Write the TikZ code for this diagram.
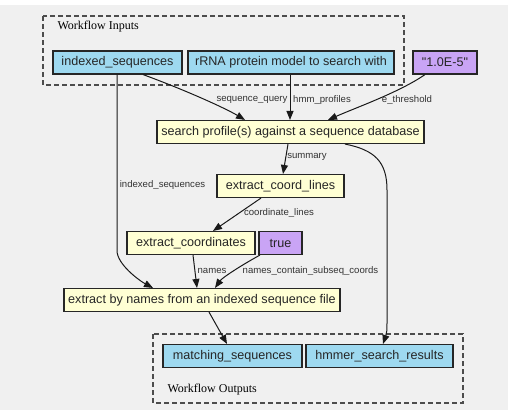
\documentclass[tikz,border=0pt]{standalone}
\usepackage{fontspec}
\setmainfont{Liberation Serif}
\newfontfamily\boxfont{Liberation Sans}
\usetikzlibrary{arrows.meta}
\definecolor{bgray}{HTML}{F0F0F0}
\definecolor{inblue}{HTML}{9ED9F0}
\definecolor{stepyellow}{HTML}{FFFFD4}
\definecolor{parampurple}{HTML}{C9A4F5}
\begin{document}
\begin{tikzpicture}[x=1pt, y=-1pt,
  box/.style={draw=black!85, line width=1.1pt, minimum height=23pt, inner sep=0pt,
    font=\boxfont\fontsize{12.6}{14}\selectfont, text=black!85},
  iobox/.style={box, fill=inblue},
  toolbox/.style={box, fill=stepyellow},
  parambox/.style={box, fill=parampurple},
  frame/.style={draw=black!70, line width=1.1pt, dash pattern=on 5pt off 3pt},
  flow/.style={line width=1pt, draw=black!90, -{Triangle[length=9pt, width=7pt]}},
  lbl/.style={font=\boxfont\fontsize{9.6}{11}\selectfont, text=black!80, inner sep=1pt}]
\useasboundingbox (0,0) rectangle (508,410);
\fill[bgray] (0,5) rectangle (508,410);

% groups
\draw[frame] (43,16) rectangle (404,85);
\node[anchor=west, font=\fontsize{12}{14}\selectfont] (intitle) at (54,27) {Workflow Inputs};
\draw[frame] (153,334) rectangle (463,403);
\node[anchor=west, font=\fontsize{12}{14}\selectfont] (outtitle) at (164,390) {Workflow Outputs};

% inputs
\node[iobox, minimum width=129pt] (idx) at (117.5,62.5) {indexed\_sequences};
\node[iobox, minimum width=206pt] (rrna) at (291,62.5) {rRNA protein model to search with};
\node[parambox, minimum width=64pt] (thr) at (445,62.5) {"1.0E-5"};

% steps
\node[toolbox, minimum width=267pt] (search) at (290.5,132) {search profile(s) against a sequence database};
\node[toolbox, minimum width=127pt] (ecl) at (280.5,186) {extract\_coord\_lines};
\node[toolbox, minimum width=128pt] (ec) at (191,243) {extract\_coordinates};
\node[parambox, minimum width=43pt] (istrue) at (280.5,243) {true};
\node[toolbox, minimum width=276pt] (ebn) at (202,300) {extract by names from an indexed sequence file};

% outputs
\node[iobox, minimum width=139pt] (ms) at (232.5,356) {matching\_sequences};
\node[iobox, minimum width=147pt] (hsr) at (379.5,356) {hmmer\_search\_results};

% connectors
\draw[flow] ([xshift=-0.5pt]idx.south) -- ++(0,176) .. controls ++(0,14) and (140,281) .. ([xshift=-49pt]ebn.north);
\draw[flow] ([xshift=25.5pt]idx.south) .. controls (185,90) and (225,108) .. ([xshift=-45.5pt]search.north);
\draw[flow] ([xshift=-1pt]rrna.south) -- ([xshift=-0.5pt]search.north);
\draw[flow] ([xshift=-20pt]thr.south) .. controls (400,92) and (355,108) .. ([xshift=37.5pt]search.north);
\draw[flow] ([xshift=-2.5pt]search.south) -- ([xshift=2.5pt]ecl.north);
\draw[flow] ([xshift=54.5pt]search.south) .. controls (375,150) and (387,162) .. (387,190) -- (387,318) .. controls (387,332) .. ([xshift=3.5pt]hsr.north);
\draw[flow] ([xshift=-19.5pt]ecl.south) -- ([xshift=22pt]ec.north);
\draw[flow] ([xshift=2pt]ec.south) -- ([xshift=-5pt]ebn.north);
\draw[flow] ([xshift=-20.5pt]istrue.south) .. controls (240,266) and (222,278) .. ([xshift=13pt]ebn.north);
\draw[flow] ([xshift=7pt]ebn.south) -- ([xshift=-5.5pt]ms.north);

% labels
\node[lbl] (lseq) at (252,100) {sequence\_query};
\node[lbl] (lhmm) at (322,100) {hmm\_profiles};
\node[lbl] (lthr) at (407,100) {e\_threshold};
\node[lbl] (lsum) at (307,157) {summary};
\node[lbl] (lidx) at (162.5,185) {indexed\_sequences};
\node[lbl] (lcl) at (279,213) {coordinate\_lines};
\node[lbl] (lnames) at (212,271) {names};
\node[lbl] (lsub) at (310.5,271) {names\_contain\_subseq\_coords};
\end{tikzpicture}
\end{document}
